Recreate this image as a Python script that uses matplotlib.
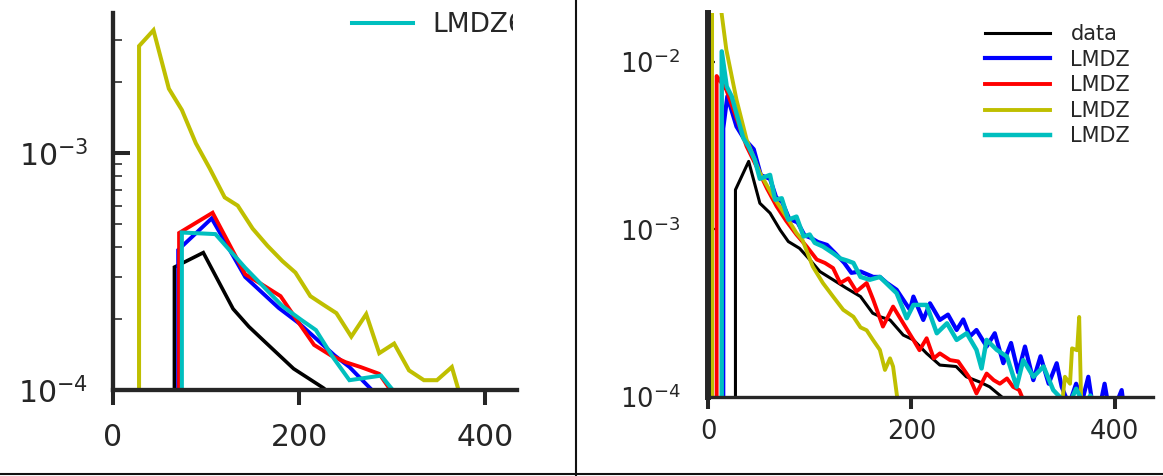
import matplotlib
matplotlib.use("Agg")
import matplotlib.pyplot as plt
from matplotlib.lines import Line2D
from matplotlib.transforms import Bbox
from matplotlib.ticker import NullFormatter

W, H, DPI = 1163, 476, 100
INK = "#262626"

series_labels = ["data", "LMDZ", "LMDZ", "LMDZ", "LMDZ"]
series_colors = ["k", "b", "r", "y", "c"]

# ---- left panel: coarse bins ----
left_data_x = [35, 66, 97, 129, 146, 163, 194, 226, 258]
left_data_y = [0, 3.3e-4, 3.8e-4, 2.2e-4, 1.85e-4, 1.6e-4, 1.23e-4, 1.02e-4, 8e-5]

left_blue_x = [40, 70, 106, 142, 178, 200, 218, 238, 254, 286]
left_blue_y = [0, 3.9e-4, 5.3e-4, 3.0e-4, 2.22e-4, 1.91e-4, 1.65e-4, 1.40e-4, 1.25e-4, 9.3e-5]

left_red_x = [40, 71, 107, 142, 160, 180, 200, 216, 234, 250, 266, 286, 302]
left_red_y = [0, 4.6e-4, 5.6e-4, 3.08e-4, 2.79e-4, 2.49e-4, 1.91e-4, 1.55e-4, 1.40e-4,
              1.31e-4, 1.25e-4, 1.17e-4, 9.5e-5]

left_yellow_x = [12, 28, 43.5, 60, 74, 89, 104, 120, 134, 150, 166, 182, 196, 212, 226,
                 240, 256, 272, 286, 302, 318, 334, 348, 364, 380]
left_yellow_y = [0, 2.83e-3, 3.30e-3, 1.87e-3, 1.52e-3, 1.10e-3, 8.6e-4, 6.5e-4, 6.0e-4,
                 4.8e-4, 4.06e-4, 3.5e-4, 3.13e-4, 2.49e-4, 2.29e-4, 2.11e-4, 1.68e-4,
                 2.09e-4, 1.43e-4, 1.57e-4, 1.21e-4, 1.10e-4, 1.10e-4, 1.25e-4, 7.6e-5]

left_cyan_x = [45, 74, 110, 142, 182, 202, 218, 236, 254, 288, 310]
left_cyan_y = [0, 4.62e-4, 4.55e-4, 3.28e-4, 2.26e-4, 1.98e-4, 1.79e-4, 1.38e-4, 1.10e-4,
               1.15e-4, 9e-5]

# ---- right panel: fine bins ----
right_data_x = [21, 27, 40, 51, 61, 71, 79, 90, 100, 110, 123, 136, 150, 162, 170, 179,
                192, 202, 215, 228, 244, 254, 267, 277, 289, 300]
right_data_y = [0, 1.72e-3, 2.54e-3, 1.43e-3, 1.25e-3, 9.9e-4, 8.45e-4, 7.7e-4, 6.6e-4,
                5.6e-4, 5.0e-4, 4.46e-4, 3.97e-4, 3.16e-4, 3.0e-4, 2.88e-4, 2.34e-4,
                2.19e-4, 1.82e-4, 1.55e-4, 1.52e-4, 1.32e-4, 1.23e-4, 1.15e-4, 1.0e-4, 8.5e-5]

right_blue_x = [10, 15, 19, 28, 35, 45, 52, 61, 67, 73, 80, 88, 95, 101, 108, 117, 126,
                134, 141, 150, 162.5, 169, 176, 185.5, 192, 198.6, 202, 211.7, 218.3, 228,
                236, 244.5, 251, 257.6, 264, 274, 282, 290.4, 298, 305, 311.7, 319.9, 327,
                335, 342.9, 347.8, 355, 362, 368, 374, 377, 384, 390, 395, 401, 406.8, 411]
right_blue_y = [0, 4.0e-3, 6.2e-3, 4.1e-3, 3.5e-3, 3.0e-3, 2.1e-3, 2.0e-3, 1.55e-3,
                1.45e-3, 1.15e-3, 1.1e-3, 9.2e-4, 8.9e-4, 8.4e-4, 8.07e-4, 7.1e-4, 6.3e-4,
                5.5e-4, 5.6e-4, 5.2e-4, 5.2e-4, 4.78e-4, 4.36e-4, 3.8e-4, 3.31e-4, 3.97e-4,
                2.88e-4, 3.62e-4, 2.88e-4, 3.1e-4, 2.51e-4, 2.9e-4, 2.3e-4, 2.51e-4, 2.0e-4,
                2.4e-4, 1.59e-4, 2.1e-4, 1.4e-4, 2.0e-4, 1.26e-4, 1.75e-4, 1.2e-4, 1.59e-4,
                1.15e-4, 9e-5, 1.2e-4, 9.5e-5, 1.32e-4, 1.0e-4, 8e-5, 1.2e-4, 8e-5, 9e-5,
                1.1e-4, 7e-5]

right_red_x = [3, 8.5, 18, 28, 38, 48, 58, 67.5, 77, 87, 97, 107, 115, 123, 130, 138, 146,
               156, 162.5, 172, 182, 192, 202, 208, 215, 222, 228, 238, 246, 257.6, 264,
               274, 281, 287, 294, 300, 306, 312]
right_red_y = [0, 8.2e-3, 6.8e-3, 4.6e-3, 3.12e-3, 2.35e-3, 1.75e-3, 1.37e-3, 1.12e-3,
               9.3e-4, 7.9e-4, 6.6e-4, 6.3e-4, 5.87e-4, 4.78e-4, 5.1e-4, 4.26e-4, 4.78e-4,
               3.8e-4, 2.63e-4, 3.46e-4, 2.75e-4, 2.19e-4, 1.9e-4, 2.24e-4, 1.70e-4,
               1.82e-4, 1.66e-4, 1.63e-4, 1.29e-4, 1.05e-4, 1.38e-4, 1.26e-4, 1.2e-4,
               1.29e-4, 1.15e-4, 1.1e-4, 9e-5]

right_yellow_x = [-1, 4, 11, 18, 28, 38, 51, 64, 77, 87, 93, 103, 113, 123, 133, 143, 150,
                  156, 162, 169, 174, 179, 182, 186, 195, 240, 300, 345, 351, 356, 358, 363,
                  365, 368]
right_yellow_y = [0, 3.5e-2, 2.5e-2, 1.18e-2, 5.93e-3, 3.42e-3, 2.17e-3, 1.57e-3, 1.19e-3,
                  9.5e-4, 8.6e-4, 6.0e-4, 4.78e-4, 3.97e-4, 3.31e-4, 3.01e-4, 2.6e-4,
                  2.5e-4, 2.2e-4, 1.91e-4, 1.45e-4, 1.70e-4, 1.52e-4, 1.0e-4, 6e-5, 5e-5,
                  4e-5, 6e-5, 1.32e-4, 1.2e-4, 1.95e-4, 1.9e-4, 3.0e-4, 5e-5]

right_cyan_x = [8, 13.5, 18.4, 23.3, 34.7, 40, 46, 51, 61, 66, 72.5, 79, 87, 94, 100, 105,
                113, 123, 130, 137, 143, 150, 159, 169, 178, 185.5, 195.4, 202, 215, 225,
                235, 244.5, 254.4, 264, 269, 274, 284, 294, 303.5, 310, 320, 330, 339.5,
                346, 355, 362, 370, 376, 385]
right_cyan_y = [0, 1.15e-2, 7.1e-3, 6.2e-3, 3.5e-3, 3.1e-3, 2.6e-3, 2.0e-3, 2.11e-3,
                1.5e-3, 1.53e-3, 1.14e-3, 1.19e-3, 9.06e-4, 9.3e-4, 8.3e-4, 7.9e-4, 7.2e-4,
                6.7e-4, 6.5e-4, 6.3e-4, 5.2e-4, 5.0e-4, 5.2e-4, 4.6e-4, 4.16e-4, 2.95e-4,
                3.54e-4, 3.54e-4, 2.40e-4, 2.75e-4, 2.19e-4, 2.4e-4, 1.91e-4, 1.48e-4,
                2.19e-4, 1.91e-4, 1.74e-4, 1.15e-4, 1.66e-4, 1.32e-4, 1.52e-4, 1.1e-4,
                1.0e-4, 9e-5, 1.12e-4, 9e-5, 1.02e-4, 8e-5]

left_series = [(left_data_x, left_data_y), (left_blue_x, left_blue_y),
               (left_red_x, left_red_y), (left_yellow_x, left_yellow_y),
               (left_cyan_x, left_cyan_y)]
right_series = [(right_data_x, right_data_y), (right_blue_x, right_blue_y),
                (right_red_x, right_red_y), (right_yellow_x, right_yellow_y),
                (right_cyan_x, right_cyan_y)]

left_xticks = [0, 200, 400]
right_xticks = [0, 200, 400]

fig = plt.figure(figsize=(W / DPI, H / DPI), dpi=DPI)
fig.patch.set_facecolor("white")


def px_axes(x0, x1, ytop, ybot):
    return fig.add_axes([x0 / W, 1 - ybot / H, (x1 - x0) / W, (ybot - ytop) / H])


def style(ax, xmax, ymax, xticks, lsp, bsp, fs, ylen, ypad, xlen, xpad, xw, yw):
    ax.set_yscale("log")
    ax.set_xlim(0, xmax)
    ax.set_ylim(1e-4, ymax)
    ax.set_xticks(xticks)
    ax.yaxis.set_minor_formatter(NullFormatter())
    for s in ("top", "right"):
        ax.spines[s].set_visible(False)
    ax.spines["left"].set_linewidth(lsp)
    ax.spines["bottom"].set_linewidth(bsp)
    for s in ("left", "bottom"):
        ax.spines[s].set_color(INK)
    ax.tick_params(axis="y", which="major", direction="in", length=ylen, width=yw,
                   pad=ypad, labelsize=fs, colors=INK)
    ax.tick_params(axis="y", which="minor", direction="in", length=ylen * 0.55,
                   width=yw * 0.4, colors=INK)
    ax.tick_params(axis="x", which="major", direction="out", length=xlen, width=xw,
                   pad=xpad, labelsize=fs, colors=INK)
    ax.tick_params(axis="x", which="minor", bottom=False)
    ax.set_facecolor("none")


# left panel
axl = px_axes(113, 517, 13.3, 390)
left_widths = [2.6, 2.8, 2.8, 2.9, 2.9]
left_lines = []
for (xs, ys), c, lw, lab in zip(left_series, series_colors, left_widths, series_labels):
    ln, = axl.plot(xs, ys, color=c, lw=lw, label=lab, solid_joinstyle="miter")
    left_lines.append(ln)
style(axl, 434, 3.89e-3, left_xticks, 3.1, 3.1, 21.5, 12, 18, 10.8, 13, 2.9, 2.9)

# right panel
axr = px_axes(708, 1153, 13.3, 397)
right_widths = [2.2, 3.0, 2.8, 2.8, 3.2]
for (xs, ys), c, lw, lab in zip(right_series, series_colors, right_widths, series_labels):
    axr.plot(xs, ys, color=c, lw=lw, label=lab)
style(axr, 437.6, 1.94e-2, right_xticks, 4.3, 2.4, 18.5, 5, 20, 8.6, 7, 2.9, 1.6)

legr = axr.legend(loc="upper left", bbox_to_anchor=(985 / W, 1 - 24 / H),
                  bbox_transform=fig.transFigure, frameon=False, borderpad=0,
                  borderaxespad=0, handlelength=3.1, handletextpad=1.0,
                  labelspacing=0.27, fontsize=15)
for t in legr.get_texts():
    t.set_color(INK)

legl = fig.legend([left_lines[-1]], ["LMDZ6"], loc="upper left",
                  bbox_to_anchor=(352 / W, 1 - 12.5 / H), bbox_transform=fig.transFigure,
                  frameon=False, borderpad=0, borderaxespad=0, handlelength=2.3,
                  handletextpad=0.76, fontsize=19)
for t in legl.get_texts():
    t.set_color(INK)
    t.set_clip_box(Bbox.from_extents(0, 0, 513, H))
    t.set_clip_on(True)

# panel frame lines
fig.add_artist(Line2D([576 / W, 576 / W], [0, 1], transform=fig.transFigure,
                      color="#111111", lw=1.5))
fig.add_artist(Line2D([0, 1], [(H - 474) / H, (H - 474) / H], transform=fig.transFigure,
                      color="#111111", lw=1.5))

fig.savefig("out.png", dpi=DPI, facecolor="white")
